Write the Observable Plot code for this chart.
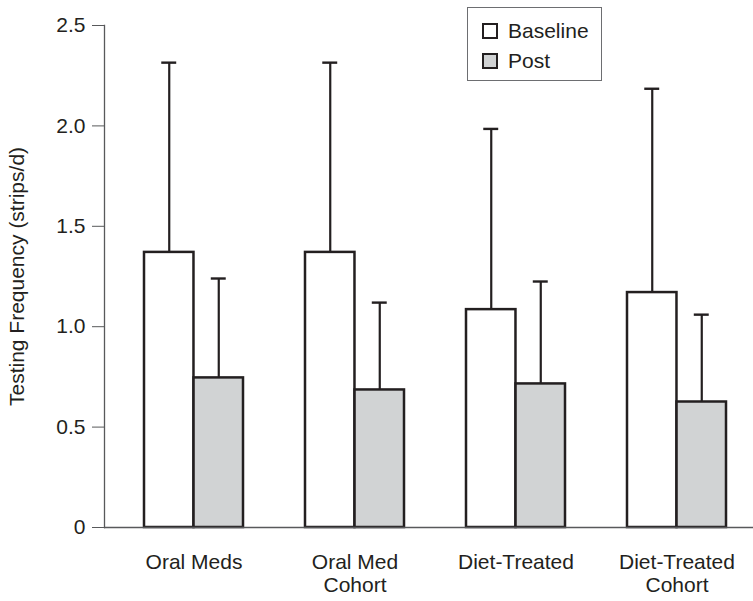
<!DOCTYPE html>
<html>
<head>
<meta charset="utf-8">
<script src="https://cdn.jsdelivr.net/npm/d3@7"></script>
<script src="https://cdn.jsdelivr.net/npm/@observablehq/plot@0.6"></script>
<style>
  html, body { margin: 0; padding: 0; background: #fff; }
  #wrap { position: relative; width: 753px; height: 601px; font-family: "Liberation Sans", Arial, sans-serif; }
  #legend { position: absolute; left: 467px; top: 7px; width: 135px; height: 74px; border: 1.3px solid #6d6e71; box-sizing: border-box; background: #fff; }
  .item { position: absolute; left: 14px; display: flex; align-items: center; font-size: 21px; line-height: 1; color: #231f20; }
  .sw { width: 12px; height: 12px; border: 2.5px solid #231f20; margin-right: 10px; }
</style>
</head>
<body>
<div id="wrap"></div>
<script>
const categories = ["Oral Meds", "Oral Med\nCohort", "Diet-Treated", "Diet-Treated\nCohort"];
const series = ["Baseline", "Post"];
const baselineMean = [1.37, 1.37, 1.085, 1.17];
const baselineUpper = [2.315, 2.315, 1.985, 2.185];
const postMean = [0.745, 0.685, 0.715, 0.625];
const postUpper = [1.24, 1.12, 1.225, 1.06];
const yTicks = [0, 0.5, 1.0, 1.5, 2.0, 2.5];
const colors = {Baseline: "#ffffff", Post: "#d1d3d4"};

const data = [];
categories.forEach((c, i) => {
  data.push({cat: c, series: "Baseline", mean: baselineMean[i], upper: baselineUpper[i]});
  data.push({cat: c, series: "Post", mean: postMean[i], upper: postUpper[i]});
});

const W = 753, H = 601, mL = 104, mR = 0, mT = 25, mB = 74;
const pInner = 0.386, pOuter = 0.2046, align = 0.59;
const bw = d3.scaleBand().domain(categories).range([mL, W - mR])
  .paddingInner(pInner).paddingOuter(pOuter).align(align).bandwidth();
const half = bw / 2;
const capW = 15;
const ink = "#231f20";
const axisGray = "#58595b";

const base = data.filter(d => d.series === "Baseline");
const post = data.filter(d => d.series === "Post");

const chart = Plot.plot({
  width: W, height: H,
  marginLeft: mL, marginRight: mR, marginTop: mT, marginBottom: mB,
  style: {fontFamily: "'Liberation Sans', Arial, sans-serif", background: "#fff", color: "#231f20"},
  x: {domain: categories, paddingInner: pInner, paddingOuter: pOuter, align: align},
  y: {domain: [0, 2.5]},
  marks: [
    // error bars
    Plot.ruleX(base, {x: "cat", y1: "mean", y2: "upper", dx: -half / 2, stroke: ink, strokeWidth: 2.2}),
    Plot.ruleX(post, {x: "cat", y1: "mean", y2: "upper", dx: half / 2, stroke: ink, strokeWidth: 2.2}),
    Plot.tickY(base, {x: "cat", y: "upper", insetLeft: half / 2 - capW / 2, insetRight: bw - half / 2 - capW / 2, stroke: ink, strokeWidth: 2.4}),
    Plot.tickY(post, {x: "cat", y: "upper", insetLeft: half + half / 2 - capW / 2, insetRight: half / 2 - capW / 2, stroke: ink, strokeWidth: 2.4}),
    // bars
    Plot.barY(base, {x: "cat", y: "mean", insetRight: half, fill: colors.Baseline, stroke: ink, strokeWidth: 2.5}),
    Plot.barY(post, {x: "cat", y: "mean", insetLeft: half, fill: colors.Post, stroke: ink, strokeWidth: 2.5}),
    // axes
    Plot.ruleY([0], {stroke: axisGray, strokeWidth: 1.3}),
    Plot.frame({anchor: "left", stroke: axisGray, strokeWidth: 1.3}),
    Plot.axisY({
      ticks: yTicks, tickSize: 12, tickPadding: 7, fontSize: 21, stroke: axisGray,
      tickFormat: d => d === 0 ? "0" : d.toFixed(1),
      label: "Testing Frequency (strips/d)", labelAnchor: "center", labelArrow: "none", labelOffset: 95
    }),
    Plot.axisX({tickSize: 0, tickPadding: 25, fontSize: 21, label: null, lineHeight: 1.1})
  ]
});

const wrap = document.getElementById("wrap");
wrap.appendChild(chart);

const legend = document.createElement("div");
legend.id = "legend";
series.forEach((s, i) => {
  const it = document.createElement("div");
  it.className = "item";
  it.style.top = (i === 0 ? 12 : 42) + "px";
  const sw = document.createElement("div");
  sw.className = "sw";
  sw.style.background = colors[s];
  const tx = document.createElement("span");
  tx.textContent = s;
  it.appendChild(sw);
  it.appendChild(tx);
  legend.appendChild(it);
});
wrap.appendChild(legend);
</script>
</body>
</html>
